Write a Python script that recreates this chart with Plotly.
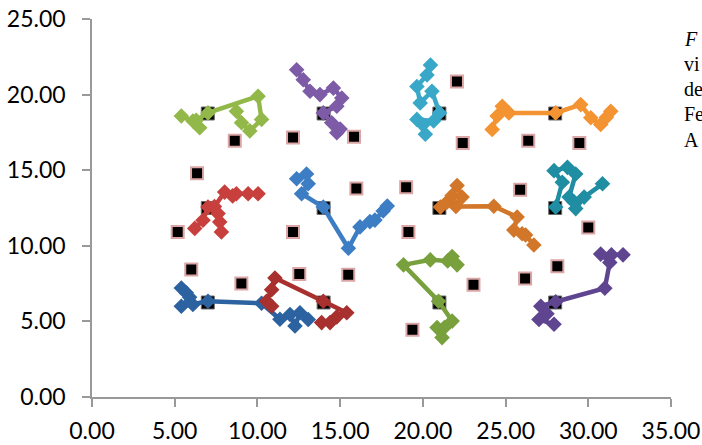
import plotly.graph_objects as go

# ---- data ----
# grid target squares (black)
grid_x = [7, 14, 21, 28, 7, 14, 21, 28, 7, 14, 21, 28]
grid_y = [18.75, 18.75, 18.75, 18.75, 12.5, 12.5, 12.5, 12.5, 6.25, 6.25, 6.25, 6.25]

# scattered squares (black with pink edge)
sq_x = [8.63, 12.15, 15.84, 6.35, 5.18, 12.15, 15.98, 18.99, 19.13, 6.0, 9.03, 12.53,
        15.49, 19.37, 23.06, 22.06, 22.41, 26.37, 29.46, 25.88, 30.0, 26.18, 28.13]
sq_y = [16.95, 17.17, 17.21, 14.80, 10.92, 10.92, 13.79, 13.88, 10.92, 8.44, 7.50, 8.14,
        8.09, 4.45, 7.43, 20.86, 16.80, 16.95, 16.80, 13.71, 11.21, 7.83, 8.64]

# paths
s1_x = [5.40, 6.10, 6.51, 6.30, 7.01, 10.04, 10.25, 9.54, 9.04, 8.73]
s1_y = [18.58, 18.25, 17.81, 18.30, 18.79, 19.89, 18.36, 17.60, 18.14, 18.90]

s2_x = [12.37, 12.77, 13.18, 13.78, 14.59, 15.10, 14.80, 13.98, 14.49, 14.80, 15.00]
s2_y = [21.64, 20.98, 20.22, 20.00, 20.43, 19.78, 19.23, 18.79, 18.14, 17.48, 17.72]

s3_x = [20.15, 20.00, 19.64, 20.65, 21.01, 20.55, 19.84, 19.64, 20.25, 20.46]
s3_y = [17.38, 18.00, 18.36, 18.25, 18.79, 20.22, 19.45, 20.54, 21.30, 21.95]

s4_x = [24.19, 24.49, 24.80, 25.20, 28.03, 29.54, 30.15, 30.75, 31.10, 31.36]
s4_y = [17.70, 18.58, 19.23, 18.79, 18.79, 19.34, 18.47, 18.03, 18.50, 18.90]

s5_x = [6.21, 6.71, 7.01, 7.62, 7.82, 7.72, 7.40, 8.02, 8.50, 8.73, 9.44, 10.04]
s5_y = [11.15, 11.69, 12.56, 12.13, 10.92, 11.58, 12.60, 13.55, 13.30, 13.44, 13.44, 13.44]

s6_x = [12.37, 12.97, 13.07, 12.67, 13.98, 15.50, 16.20, 16.80, 17.10, 17.60, 17.85]
s6_y = [14.43, 14.75, 14.10, 13.44, 12.56, 9.84, 11.25, 11.60, 11.70, 12.30, 12.63]

s7_x = [21.06, 21.46, 21.77, 22.07, 22.37, 22.00, 24.29, 25.70, 25.50, 26.00, 26.21, 26.71]
s7_y = [12.56, 12.89, 13.33, 13.99, 13.22, 12.60, 12.62, 11.90, 11.04, 10.80, 10.71, 10.05]

s8_x = [28.03, 28.43, 27.93, 28.74, 29.24, 28.84, 29.14, 29.24, 29.75, 30.86]
s8_y = [12.56, 14.20, 14.97, 15.19, 14.75, 13.22, 12.90, 12.46, 13.22, 14.10]

s9_x = [5.40, 5.70, 5.90, 5.40, 6.10, 7.01, 10.25, 11.36, 11.97, 12.27, 12.57, 13.07]
s9_y = [7.21, 6.89, 6.60, 6.00, 6.12, 6.33, 6.20, 5.14, 5.46, 4.70, 5.57, 5.13]

s10_x = [10.86, 10.55, 10.86, 11.06, 13.98, 15.40, 14.80, 14.39, 13.88]
s10_y = [6.00, 6.33, 7.10, 7.87, 6.33, 5.57, 5.30, 4.92, 4.92]

s11_x = [22.07, 21.77, 21.50, 20.45, 18.83, 20.95, 21.77, 21.30, 20.86, 21.16]
s11_y = [8.74, 9.29, 9.00, 9.07, 8.74, 6.33, 5.02, 4.60, 4.59, 3.93]

s12_x = [27.93, 27.02, 27.50, 27.13, 28.03, 31.00, 31.30, 30.75, 31.40, 32.10]
s12_y = [4.81, 5.13, 5.50, 6.00, 6.30, 7.20, 8.90, 9.45, 9.40, 9.40]

colors = ["#93B84A", "#7D5BA6", "#39A8C8", "#F39332",
          "#C8403D", "#3D7DC4", "#D27629", "#1F8DA2",
          "#2D62A0", "#A8302E", "#78A03C", "#5F4590"]

side_text = ["<i>F</i>", "vi", "de", "Fe", "A"]

series = [(s1_x, s1_y), (s2_x, s2_y), (s3_x, s3_y), (s4_x, s4_y),
          (s5_x, s5_y), (s6_x, s6_y), (s7_x, s7_y), (s8_x, s8_y),
          (s9_x, s9_y), (s10_x, s10_y), (s11_x, s11_y), (s12_x, s12_y)]

fig = go.Figure()

fig.add_trace(go.Scatter(x=grid_x, y=grid_y, mode="markers",
                         marker=dict(symbol="square", size=13, color="black",
                                     line=dict(color="#6E6E6E", width=1)),
                         showlegend=False, hoverinfo="skip", cliponaxis=False))
fig.add_trace(go.Scatter(x=sq_x, y=sq_y, mode="markers",
                         marker=dict(symbol="square", size=12, color="black",
                                     line=dict(color="#DCA6A6", width=2)),
                         showlegend=False, hoverinfo="skip", cliponaxis=False))

for (xs, ys), c in zip(series, colors):
    fig.add_trace(go.Scatter(x=xs, y=ys, mode="lines+markers",
                             line=dict(color=c, width=4.5),
                             marker=dict(symbol="diamond", size=12, color=c),
                             showlegend=False, hoverinfo="skip", cliponaxis=False))

ann = []
ys_paper = [0.948, 0.881, 0.815, 0.749, 0.680]
for t, yp in zip(side_text, ys_paper):
    ann.append(dict(text=t, x=1.019, y=yp, xref="paper", yref="paper",
                    xanchor="left", yanchor="middle", showarrow=False,
                    font=dict(family="Liberation Serif", size=20, color="black")))

axis_common = dict(showgrid=False, zeroline=False, showline=True, automargin=False,
                   linecolor="#999999", linewidth=1.5,
                   ticks="outside", ticklen=8, tickcolor="#999999", tickwidth=1.5,
                   tickformat=".2f", ticklabeloverflow="allow",
                   tickfont=dict(family="Lato", size=23, color="black"))

fig.update_layout(
    width=702, height=445,
    margin=dict(l=92, r=31, t=19, b=48, autoexpand=False),
    paper_bgcolor="white", plot_bgcolor="white",
    xaxis=dict(range=[0, 35], dtick=5, ticklabelstandoff=5, **axis_common),
    yaxis=dict(range=[0, 25], dtick=5, ticklabelstandoff=12, **axis_common),
    annotations=ann,
)

# remove the default page margin so the 702x445 figure fills the window exactly
fig.write_html("out.html",
               config={"displayModeBar": False},
               post_script="document.body.style.margin='0';document.body.style.overflow='hidden';")
